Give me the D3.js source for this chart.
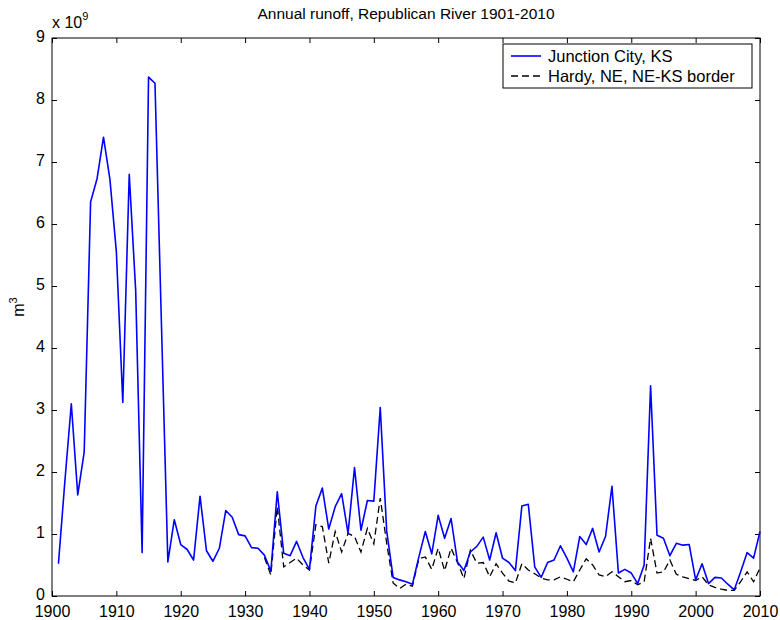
<!DOCTYPE html>
<html><head><meta charset="utf-8">
<script src="https://cdn.jsdelivr.net/npm/d3@7"></script>
<style>
html,body{margin:0;padding:0;background:#fff;}
text{font-family:"Liberation Sans",Arial,sans-serif;}
</style></head>
<body><svg id="c" width="780" height="620"></svg>
<script>
const title = "Annual runoff, Republican River 1901-2010";
const seriesNames = ["Junction City, KS", "Hardy, NE, NE-KS border"];
const yearsJunction = d3.range(1901, 2011);
const junction = [
 0.52,1.85,3.10,1.63,2.32,6.36,6.73,7.40,6.72,5.55,
 3.12,6.80,4.93,0.70,8.37,8.27,4.40,0.55,1.23,0.83,
 0.75,0.58,1.61,0.73,0.56,0.77,1.38,1.27,0.99,0.97,
 0.78,0.77,0.66,0.40,1.68,0.69,0.65,0.88,0.62,0.43,
 1.45,1.74,1.08,1.44,1.65,1.01,2.07,1.06,1.54,1.53,
 3.04,1.05,0.30,0.26,0.23,0.19,0.63,1.04,0.68,1.30,
 0.93,1.25,0.55,0.41,0.71,0.80,0.95,0.58,1.02,0.61,
 0.54,0.41,1.45,1.48,0.47,0.30,0.54,0.58,0.81,0.61,
 0.39,0.96,0.83,1.09,0.71,0.96,1.77,0.37,0.43,0.37,
 0.20,0.50,3.39,0.98,0.93,0.65,0.85,0.82,0.83,0.26,
 0.52,0.20,0.30,0.29,0.19,0.10,0.39,0.70,0.61,1.04
];
const yearsHardy = d3.range(1933, 2011);
const hardy = [
 0.62,0.34,1.44,0.47,0.54,0.61,0.50,0.42,
 1.15,1.12,0.53,1.04,0.71,1.01,0.96,0.71,1.09,0.84,
 1.58,0.85,0.21,0.12,0.19,0.16,0.60,0.63,0.43,0.77,
 0.41,0.77,0.54,0.28,0.74,0.53,0.54,0.31,0.52,0.37,
 0.24,0.21,0.52,0.42,0.36,0.29,0.26,0.26,0.31,0.27,
 0.23,0.42,0.60,0.50,0.34,0.31,0.39,0.31,0.23,0.25,
 0.18,0.23,0.93,0.37,0.39,0.58,0.35,0.31,0.28,0.25,
 0.31,0.18,0.14,0.11,0.09,0.09,0.23,0.39,0.23,0.45
];
const xTicks = d3.range(1900, 2011, 10);
const yTicks = d3.range(0, 10, 1);

const svg = d3.select("#c");
const L = 52, R = 760, T = 38, B = 596;
const x = d3.scaleLinear().domain([1900, 2010]).range([L, R]);
const y = d3.scaleLinear().domain([0, 9]).range([B, T]);
const FS = 16;

const tl = 5;
svg.append("g").attr("transform", `translate(0,${B})`)
  .call(d3.axisBottom(x).tickValues(xTicks).tickFormat(d3.format("d")).tickSizeInner(-tl).tickSizeOuter(0).tickPadding(10))
  .call(g => { g.select(".domain").remove(); g.selectAll("text").attr("font-size", FS).attr("fill", "#000"); });
svg.append("g").attr("transform", `translate(0,${T})`)
  .call(d3.axisTop(x).tickValues(xTicks).tickFormat("").tickSizeInner(-tl).tickSizeOuter(0))
  .call(g => g.select(".domain").remove());
svg.append("g").attr("transform", `translate(${L},0)`)
  .call(d3.axisLeft(y).tickValues(yTicks).tickFormat(d3.format("d")).tickSizeInner(-tl).tickSizeOuter(0).tickPadding(7))
  .call(g => { g.select(".domain").remove(); g.selectAll("text").attr("font-size", FS).attr("fill", "#000").attr("dy", "0.2em"); });
svg.append("g").attr("transform", `translate(${R},0)`)
  .call(d3.axisRight(y).tickValues(yTicks).tickFormat("").tickSizeInner(-tl).tickSizeOuter(0))
  .call(g => g.select(".domain").remove());
svg.selectAll(".tick line").attr("stroke", "#000");

svg.append("rect").attr("x", L).attr("y", T).attr("width", R - L).attr("height", B - T)
  .attr("fill", "none").attr("stroke", "#000").attr("stroke-width", 1);

const lineJ = d3.line().x((d, i) => x(yearsJunction[i])).y(d => y(d));
const lineH = d3.line().x((d, i) => x(yearsHardy[i])).y(d => y(d));

svg.append("path").datum(hardy).attr("d", lineH).attr("fill", "none")
  .attr("stroke", "#000").attr("stroke-width", 1.3).attr("stroke-dasharray", "7,4");
svg.append("path").datum(junction).attr("d", lineJ).attr("fill", "none")
  .attr("stroke", "#0000ff").attr("stroke-width", 1.6).attr("stroke-linejoin", "round");

svg.append("text").attr("x", (L + R) / 2).attr("y", 19).attr("text-anchor", "middle")
  .attr("font-size", 15.5).text(title);

const ex = svg.append("text").attr("x", L).attr("y", 28).attr("font-size", FS);
ex.append("tspan").text("x 10");
ex.append("tspan").attr("dy", -8).attr("font-size", 11).text("9");

const yl = svg.append("text").attr("transform", "translate(24,307) rotate(-90)")
  .attr("text-anchor", "middle").attr("font-size", FS);
yl.append("tspan").text("m");
yl.append("tspan").attr("dy", -7).attr("font-size", 11).text("3");

const lg = svg.append("g");
lg.append("rect").attr("x", 503).attr("y", 44).attr("width", 249).attr("height", 44)
  .attr("fill", "#fff").attr("stroke", "#000").attr("stroke-width", 1);
lg.append("line").attr("x1", 511).attr("x2", 541).attr("y1", 56).attr("y2", 56)
  .attr("stroke", "#0000ff").attr("stroke-width", 1.6);
lg.append("line").attr("x1", 511).attr("x2", 541).attr("y1", 76).attr("y2", 76)
  .attr("stroke", "#000").attr("stroke-width", 1.3).attr("stroke-dasharray", "7,4");
lg.append("text").attr("x", 548).attr("y", 62).attr("font-size", 16.5).text(seriesNames[0]);
lg.append("text").attr("x", 548).attr("y", 82).attr("font-size", 16.5).text(seriesNames[1]);
</script></body></html>
